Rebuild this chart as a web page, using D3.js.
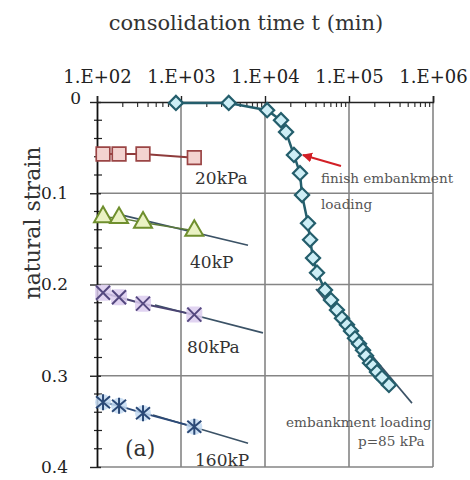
<!DOCTYPE html>
<html>
<head>
<meta charset="utf-8">
<script src="https://cdn.jsdelivr.net/npm/d3@7"></script>
<style>
  body { margin: 0; background: #fff; }
  text { font-family: "DejaVu Serif", serif; }
</style>
</head>
<body>
<div id="chart"></div>
<script>
// axis ticks
const decades = [1e2, 1e3, 1e4, 1e5, 1e6];
const decadeLabels = ["1.E+02", "1.E+03", "1.E+04", "1.E+05", "1.E+06"];
const strainTicks = [0, 0.1, 0.2, 0.3, 0.4];
const strainLabels = ["0", "0.1", "0.2", "0.3", "0.4"];

// embankment loading (p=85 kPa) - field curve
const embT = [870, 3700, 10600, 15500, 17800, 22100, 26100, 27600, 32500, 34400, 37300, 41600,
              51800, 61000, 71900, 82600, 94600, 105700, 117800, 131500, 146800, 159300,
              177800, 193000, 215400, 247000, 299000];
const embStrain = [0.001, 0.001, 0.009, 0.020, 0.033, 0.058, 0.078, 0.102, 0.133, 0.151, 0.171, 0.187,
                   0.206, 0.217, 0.228, 0.237, 0.244, 0.251, 0.259, 0.265, 0.272, 0.278,
                   0.286, 0.289, 0.296, 0.302, 0.310];
const embFitT = [40400, 562000];
const embFitStrain = [0.205, 0.330];

// oedometer steps
const stepT = [118, 183, 353, 1440];
const strain20 = [0.057, 0.057, 0.057, 0.061];
const strain40 = [0.126, 0.127, 0.132, 0.141];
const strain80 = [0.209, 0.214, 0.221, 0.233];
const strain160 = [0.329, 0.333, 0.341, 0.356];

const fit40T = [199, 6280],  fit40Strain = [0.124, 0.157];
const fit80T = [490, 9460],  fit80Strain = [0.2225, 0.253];
const fit160T = [464, 6280], fit160Strain = [0.343, 0.374];

const width = 470, height = 480;
const pLeft = 97, pRight = 433, pTop = 102, pBottom = 467;

const svg = d3.select("#chart").append("svg")
    .attr("width", width)
    .attr("height", height);

const x = d3.scaleLog().domain([1e2, 1e6]).range([pLeft, pRight]);
const y = d3.scaleLinear().domain([0, 0.4]).range([pTop, pBottom]);

const zip = (a, b) => a.map((v, i) => [v, b[i]]);
const line = d3.line().x(d => x(d[0])).y(d => y(d[1]));

// grid
const grid = svg.append("g").attr("stroke", "#858585").attr("stroke-width", 1.6);
grid.selectAll(".vg").data(decades.slice(1)).enter().append("line")
    .attr("x1", d => x(d)).attr("x2", d => x(d))
    .attr("y1", pTop).attr("y2", pBottom);
grid.selectAll(".hg").data(strainTicks.slice(1)).enter().append("line")
    .attr("x1", pLeft).attr("x2", pRight)
    .attr("y1", d => y(d)).attr("y2", d => y(d));

// minor ticks on top axis
const minorT = [];
decades.slice(0, -1).forEach(d => { for (let k = 2; k < 10; k++) minorT.push(d * k); });
svg.append("g")
    .attr("transform", "translate(0," + pTop + ")")
    .call(d3.axisTop(x).tickValues(minorT).tickSize(-5).tickFormat(""))
    .call(g => g.select(".domain").remove())
    .selectAll("line").attr("stroke", "#333").attr("stroke-width", 1.2);

// top axis
const topAxis = svg.append("g")
    .attr("transform", "translate(0," + pTop + ")")
    .call(d3.axisTop(x).tickValues(decades).tickSize(6).tickPadding(13)
        .tickFormat((d, i) => decadeLabels[i]));
topAxis.select(".domain").attr("stroke", "#222").attr("stroke-width", 1.6);
topAxis.selectAll("line").attr("stroke", "#222").attr("stroke-width", 1.4);
topAxis.selectAll("text").attr("font-size", 18).attr("fill", "#222")
    .attr("font-family", "DejaVu Serif, serif");

// left minor ticks
const minorS = d3.range(1, 20).map(i => i * 0.02).filter(v => Math.round(v * 50) % 5 !== 0);
svg.append("g").selectAll("line").data(minorS).enter().append("line")
    .attr("x1", pLeft - 3).attr("x2", pLeft + 5)
    .attr("y1", d => y(d)).attr("y2", d => y(d))
    .attr("stroke", "#222").attr("stroke-width", 1.2);

// left axis
const leftAxis = svg.append("g")
    .attr("transform", "translate(" + pLeft + ",0)")
    .call(d3.axisLeft(y).tickValues(strainTicks).tickSizeInner(7).tickSizeOuter(0).tickPadding(22)
        .tickFormat((d, i) => strainLabels[i]));
leftAxis.select(".domain").attr("stroke", "#111").attr("stroke-width", 1.8);
leftAxis.selectAll("line").attr("stroke", "#222").attr("stroke-width", 1.4)
    .attr("x2", -7).attr("x1", 4);
leftAxis.selectAll("text").attr("font-size", 17).attr("fill", "#222")
    .attr("font-family", "DejaVu Serif, serif");
leftAxis.selectAll(".tick").filter(d => d === 0).select("text")
    .attr("x", -16).attr("dy", "0.1em");

// titles
svg.append("text")
    .attr("x", 246).attr("y", 30)
    .attr("text-anchor", "middle")
    .attr("font-size", 21).attr("fill", "#333")
    .text("consolidation time t (min)");
svg.append("text")
    .attr("transform", "translate(40,223) rotate(-90)")
    .attr("text-anchor", "middle")
    .attr("font-size", 22).attr("fill", "#333")
    .text("natural strain");

// fit lines
const fitColor = "#3b5266";
[[fit40T, fit40Strain], [fit80T, fit80Strain], [fit160T, fit160Strain], [embFitT, embFitStrain]]
    .forEach(f => {
        svg.append("path")
            .datum(zip(f[0], f[1]))
            .attr("d", line)
            .attr("fill", "none")
            .attr("stroke", fitColor)
            .attr("stroke-width", 1.6);
    });

// 20 kPa squares
svg.append("path").datum(zip(stepT, strain20)).attr("d", line)
    .attr("fill", "none").attr("stroke", "#8e3b3b").attr("stroke-width", 2);
svg.selectAll(".sq").data(zip(stepT, strain20)).enter().append("path")
    .attr("transform", d => "translate(" + x(d[0]) + "," + y(d[1]) + ")")
    .attr("d", d3.symbol(d3.symbolSquare, 185))
    .attr("fill", "#f3d3d0").attr("stroke", "#9b4545").attr("stroke-width", 1.7);

// 40 kPa triangles
svg.append("path").datum(zip(stepT, strain40)).attr("d", line)
    .attr("fill", "none").attr("stroke", "#5c7a3a").attr("stroke-width", 1.5);
svg.selectAll(".tri").data(zip(stepT, strain40)).enter().append("path")
    .attr("transform", d => "translate(" + x(d[0]) + "," + y(d[1]) + ")")
    .attr("d", d3.symbol(d3.symbolTriangle, 140))
    .attr("fill", "#eaf2c4").attr("stroke", "#6f8f2e").attr("stroke-width", 2);

// 80 kPa crosses
svg.append("path").datum(zip(stepT, strain80)).attr("d", line)
    .attr("fill", "none").attr("stroke", "#4a4472").attr("stroke-width", 2);
const g80 = svg.selectAll(".x80").data(zip(stepT, strain80)).enter().append("g")
    .attr("transform", d => "translate(" + x(d[0]) + "," + y(d[1]) + ")");
g80.append("rect").attr("x", -8).attr("y", -8).attr("width", 16).attr("height", 16)
    .attr("rx", 4).attr("fill", "#dccdee").attr("opacity", 0.85);
g80.append("path").attr("d", "M-7,-7L7,7M-7,7L7,-7")
    .attr("stroke", "#54487f").attr("stroke-width", 2);

// 160 kPa asterisks
svg.append("path").datum(zip(stepT, strain160)).attr("d", line)
    .attr("fill", "none").attr("stroke", "#2c4a78").attr("stroke-width", 2);
const g160 = svg.selectAll(".a160").data(zip(stepT, strain160)).enter().append("g")
    .attr("transform", d => "translate(" + x(d[0]) + "," + y(d[1]) + ")");
g160.append("circle").attr("r", 8).attr("fill", "#c4dbf2").attr("opacity", 0.85);
g160.append("path").attr("d", "M-7,-6L7,6M-7,6L7,-6M0,-8L0,8")
    .attr("stroke", "#2a4876").attr("stroke-width", 2);

// embankment curve
svg.append("path").datum(zip(embT, embStrain)).attr("d", line)
    .attr("fill", "none").attr("stroke", "#245e6c").attr("stroke-width", 2.5);
svg.selectAll(".dia").data(zip(embT, embStrain)).enter().append("path")
    .attr("transform", d => "translate(" + x(d[0]) + "," + y(d[1]) + ") rotate(45)")
    .attr("d", d3.symbol(d3.symbolSquare, 100))
    .attr("fill", "#cdeef6").attr("stroke", "#245e6c").attr("stroke-width", 2.2);

// pressure labels
const lbl = (tx, ty, s, size) => svg.append("text")
    .attr("x", tx).attr("y", ty).attr("font-size", size || 17).attr("fill", "#333").text(s);
lbl(195, 184, "20kPa");
lbl(190, 268, "40kP");
lbl(187, 353, "80kPa");
lbl(195, 466, "160kP");
lbl(125, 456, "(a)", 22);

// annotations
const ann = (tx, ty, s) => svg.append("text")
    .attr("x", tx).attr("y", ty).attr("font-size", 13.6).attr("fill", "#555").text(s);
ann(321, 183, "finish embankment");
ann(321, 209, "loading");
ann(286, 427, "embankment loading");
ann(358, 446, "p=85 kPa");

// red arrow to end of embankment loading
const tipX = x(22100) + 9, tipY = y(0.058);
svg.append("defs").append("marker")
    .attr("id", "ah").attr("viewBox", "0 0 10 10")
    .attr("refX", 9).attr("refY", 5)
    .attr("markerWidth", 5).attr("markerHeight", 5)
    .attr("orient", "auto")
    .append("path").attr("d", "M0,0L10,5L0,10Z").attr("fill", "#d21f26");
svg.append("line")
    .attr("x1", 341).attr("y1", 166)
    .attr("x2", tipX).attr("y2", tipY)
    .attr("stroke", "#d21f26").attr("stroke-width", 2)
    .attr("marker-end", "url(#ah)");
</script>
</body>
</html>
